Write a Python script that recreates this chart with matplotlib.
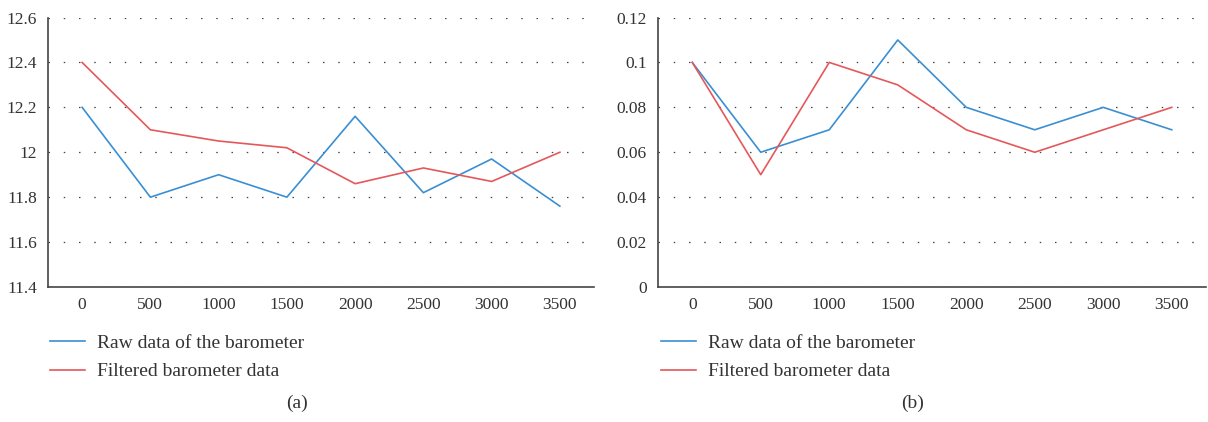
import numpy as np
import matplotlib
matplotlib.use("Agg")
import matplotlib.pyplot as plt

plt.rcParams['font.family'] = ['Liberation Serif', 'DejaVu Serif']

# Data ----------------------------------------------------------------------
x_labels = ['0', '500', '1000', '1500', '2000', '2500', '3000', '3500']

raw_a = [12.2, 11.8, 11.9, 11.8, 12.16, 11.82, 11.97, 11.76]
filt_a = [12.4, 12.1, 12.05, 12.02, 11.86, 11.93, 11.87, 12.0]

raw_b = [0.1, 0.06, 0.07, 0.11, 0.08, 0.07, 0.08, 0.07]
filt_b = [0.1, 0.05, 0.1, 0.09, 0.07, 0.06, 0.07, 0.08]

yticks_a = [11.4, 11.6, 11.8, 12, 12.2, 12.4, 12.6]
ylabels_a = ['11.4', '11.6', '11.8', '12', '12.2', '12.4', '12.6']
yticks_b = [0, 0.02, 0.04, 0.06, 0.08, 0.1, 0.12]
ylabels_b = ['0', '0.02', '0.04', '0.06', '0.08', '0.1', '0.12']

series_names = ['Raw data of the barometer', 'Filtered barometer data']
blue = '#3a8fd3'
red = '#e4585b'

W, H = 1208, 422
fig = plt.figure(figsize=(W / 100, H / 100), dpi=100)

def setup(ax, raw, filt, yticks, ylabels, legend_x, cap_x, cap):
    xs = np.arange(len(x_labels))
    ax.plot(xs, raw, color=blue, lw=1.2, label=series_names[0])
    ax.plot(xs, filt, color=red, lw=1.2, label=series_names[1])
    ax.set_xlim(-0.5, len(x_labels) - 0.5)
    ax.set_ylim(yticks[0], yticks[-1])
    ax.set_xticks(xs)
    ax.set_xticklabels(x_labels)
    ax.set_yticks(yticks)
    ax.set_yticklabels(ylabels)
    ax.tick_params(length=0, labelsize=12.5, colors='#333333', pad=8)
    ax.tick_params(axis='x', pad=7)
    for s in ['top', 'right']:
        ax.spines[s].set_visible(False)
    for s in ['left', 'bottom']:
        ax.spines[s].set_color('#444444')
        ax.spines[s].set_linewidth(1.2)
    ax.yaxis.grid(True, color='#444444', lw=0.9, linestyle=(0, (1.2, 11)))
    ax.set_axisbelow(True)
    ax.legend(loc='upper left', bbox_to_anchor=(legend_x / W, 1 - 334 / H),
              bbox_transform=fig.transFigure, frameon=False, fontsize=14,
              handlelength=1.8, handletextpad=0.6, labelspacing=0.58,
              borderpad=0, borderaxespad=0, labelcolor='#333333')
    fig.text(cap_x / W, 1 - 403 / H, cap, ha='center', va='center',
             fontsize=14, color='#333333')

ax1 = fig.add_axes([48 / W, 1 - 287 / H, 546 / W, 269.5 / H])
setup(ax1, raw_a, filt_a, yticks_a, ylabels_a, 50, 297, '(a)')

ax2 = fig.add_axes([658 / W, 1 - 287 / H, 548 / W, 269.5 / H])
setup(ax2, raw_b, filt_b, yticks_b, ylabels_b, 661, 913, '(b)')

fig.savefig('out.png', dpi=100)
